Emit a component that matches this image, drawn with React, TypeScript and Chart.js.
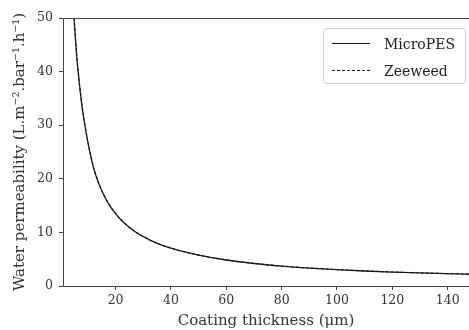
import React, { useEffect, useRef } from "react";
import { Chart, registerables } from "chart.js";

Chart.register(...registerables);

// Coating thickness (µm)
const thickness = [4.5, 5, 5.5, 6, 6.5, 7, 8, 9, 10, 11, 12, 14, 16, 18, 20, 22, 25, 28, 30, 35, 40, 45, 50, 60, 70, 80, 90, 100, 110, 120, 130, 140, 150];
// Water permeability, MicroPES
const microPES = [56, 50, 46, 42.5, 39.8, 37.3, 33, 29.7, 26.8, 24.3, 22.1, 19.0, 16.7, 14.9, 13.5, 12.3, 10.9, 9.8, 9.2, 7.95, 7.05, 6.35, 5.75, 4.85, 4.2, 3.72, 3.35, 3.05, 2.8, 2.6, 2.44, 2.3, 2.18];
// Water permeability, Zeeweed
const zeeweed = [56.5, 50.4, 46.3, 42.8, 40.0, 37.5, 33.2, 29.8, 26.9, 24.4, 22.2, 19.1, 16.75, 14.95, 13.55, 12.35, 10.95, 9.85, 9.22, 7.97, 7.07, 6.36, 5.76, 4.86, 4.21, 3.73, 3.36, 3.06, 2.81, 2.61, 2.45, 2.31, 2.19];

const xTicks = [20, 40, 60, 80, 100, 120, 140];
const yTicks = [0, 10, 20, 30, 40, 50];

const FONT = "'DejaVu Serif', serif";
const TEXT = "#333333";
const AXIS = "#444444";

const topSpine = {
  id: "topSpine",
  afterDraw(chart: any) {
    const { ctx, chartArea } = chart;
    ctx.save();
    ctx.strokeStyle = AXIS;
    ctx.lineWidth = 1;
    ctx.beginPath();
    ctx.moveTo(chartArea.left, chartArea.top + 0.5);
    ctx.lineTo(chartArea.right, chartArea.top + 0.5);
    ctx.stroke();
    ctx.restore();
  },
};

export default function App() {
  const ref = useRef<HTMLCanvasElement | null>(null);

  useEffect(() => {
    if (!ref.current) return;
    const chart = new Chart(ref.current, {
      type: "line",
      data: {
        datasets: [
          {
            label: "Zeeweed",
            data: thickness.map((x, i) => ({ x, y: zeeweed[i] })),
            borderColor: "#111111",
            borderWidth: 1.1,
            borderDash: [3, 2],
            pointRadius: 0,
            cubicInterpolationMode: "monotone",
            fill: false,
          },
          {
            label: "MicroPES",
            data: thickness.map((x, i) => ({ x, y: microPES[i] })),
            borderColor: "#222222",
            borderWidth: 1.3,
            pointRadius: 0,
            cubicInterpolationMode: "monotone",
            fill: false,
          },
        ],
      },
      options: {
        responsive: false,
        animation: false,
        layout: { padding: { top: 18, left: 0, right: 0, bottom: 0 } },
        plugins: { legend: { display: false }, tooltip: { enabled: false } },
        scales: {
          x: {
            type: "linear",
            min: 1,
            max: 147.7,
            afterBuildTicks: (s: any) => {
              s.ticks = xTicks.map((v) => ({ value: v }));
            },
            afterFit: (s: any) => {
              s.height = 44;
            },
            grid: { drawOnChartArea: false, drawTicks: true, tickLength: 4, color: AXIS },
            border: { display: true, color: AXIS, width: 1 },
            ticks: { color: TEXT, font: { family: FONT, size: 12.5 }, padding: 3, maxRotation: 0 },
            title: {
              display: true,
              text: "Coating thickness (μm)",
              color: TEXT,
              font: { family: FONT, size: 15 },
              padding: { top: 0, bottom: 0 },
            },
          },
          y: {
            type: "linear",
            min: 0,
            max: 50,
            afterBuildTicks: (s: any) => {
              s.ticks = yTicks.map((v) => ({ value: v }));
            },
            afterFit: (s: any) => {
              s.width = 63;
            },
            grid: { drawOnChartArea: false, drawTicks: true, tickLength: 4, color: AXIS },
            border: { display: true, color: AXIS, width: 1 },
            ticks: { color: TEXT, font: { family: FONT, size: 12.5 }, padding: 6 },
            title: {
              display: true,
              text: "Water permeability (L.m⁻².bar⁻¹.h⁻¹)",
              color: TEXT,
              font: { family: FONT, size: 15 },
              padding: { top: 11, bottom: 0 },
            },
          },
        },
      },
      plugins: [topSpine],
    });
    return () => chart.destroy();
  }, []);

  const row: React.CSSProperties = {
    display: "flex",
    alignItems: "center",
    height: 27,
  };
  const sample = (dashed: boolean): React.CSSProperties => ({
    width: 38,
    height: 0,
    borderTop: `1px ${dashed ? "dashed" : "solid"} #111`,
    marginLeft: 8,
    marginRight: 14,
  });

  return (
    <div style={{ position: "fixed", left: 0, top: 0, width: 469, height: 330, background: "#fff" }}>
      <canvas ref={ref} width={469} height={330} />
      <div
        style={{
          position: "absolute",
          left: 323,
          top: 28,
          width: 143,
          height: 56,
          border: "1px solid #cccccc",
          borderRadius: 4,
          background: "rgba(255,255,255,0.8)",
          fontFamily: FONT,
          fontSize: 14,
          color: "#222",
          boxSizing: "border-box",
          paddingTop: 1,
        }}
      >
        <div style={row}>
          <span style={sample(false)} />
          <span>MicroPES</span>
        </div>
        <div style={row}>
          <span style={sample(true)} />
          <span>Zeeweed</span>
        </div>
      </div>
    </div>
  );
}
